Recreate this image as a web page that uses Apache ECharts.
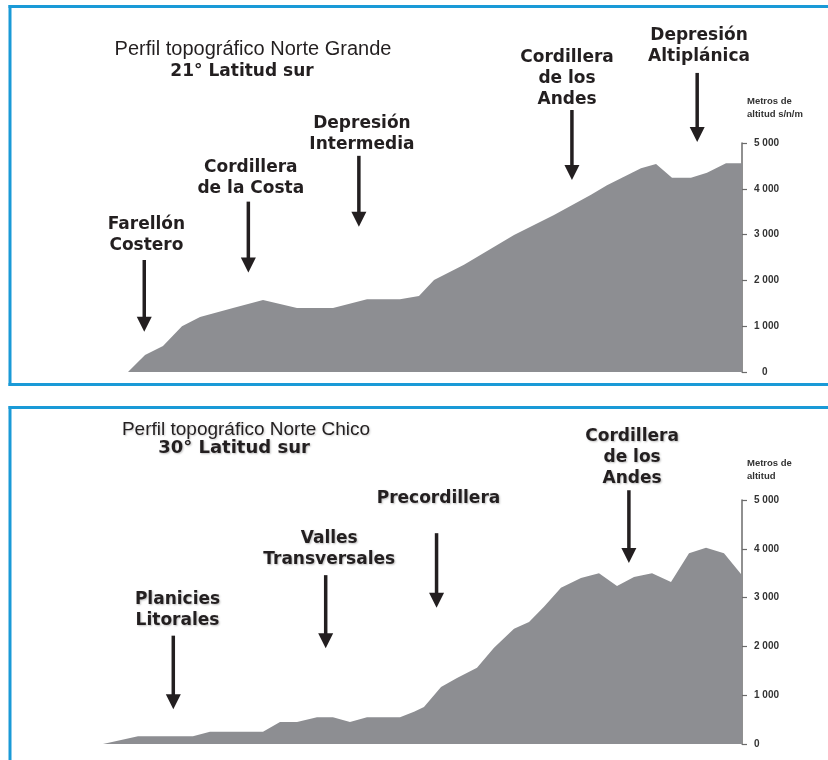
<!DOCTYPE html>
<html>
<head>
<meta charset="utf-8">
<script src="https://cdn.jsdelivr.net/npm/echarts@6/dist/echarts.min.js"></script>
<style>
html,body{margin:0;padding:0;background:#fff;}
#chart{width:828px;height:760px;}
</style>
</head>
<body>
<div id="chart"></div>
<script>
// ---------- Data: Norte Grande (21° S) ----------
const topDist = [0, 2.77, 5.70, 8.79, 11.73, 17.10, 21.99, 27.52, 33.39, 38.93, 44.30, 47.39, 49.84, 54.72, 62.87, 69.38, 75.41, 78.01, 83.55, 86.0, 88.6, 91.69, 94.3, 97.39, 100];
const topAlt  = [0, 370, 570, 1000, 1200, 1400, 1570, 1400, 1400, 1590, 1590, 1660, 2010, 2340, 2990, 3430, 3870, 4080, 4450, 4540, 4240, 4240, 4350, 4560, 4560];

// ---------- Data: Norte Chico (30° S) ----------
const botDist = [0, 5.48, 14.08, 16.74, 25.04, 27.70, 30.36, 33.49, 35.99, 38.65, 41.31, 46.48, 48.67, 50.23, 52.90, 55.40, 58.53, 61.19, 64.32, 66.67, 69.01, 71.67, 74.80, 77.62, 80.44, 83.10, 85.92, 88.89, 91.71, 94.37, 97.18, 100];
const botAlt  = [0, 160, 160, 250, 250, 450, 450, 550, 550, 450, 550, 550, 660, 760, 1170, 1350, 1560, 1970, 2360, 2500, 2810, 3200, 3400, 3500, 3240, 3420, 3500, 3320, 3910, 4020, 3910, 3460];

// ---------- Axis ticks ----------
const altTicks = [0, 1000, 2000, 3000, 4000, 5000];

// ---------- Annotations (arrow x, arrow top/tip altitude, label anchor) ----------
const topLabels   = ['Farellón\nCostero', 'Cordillera\nde la Costa', 'Depresión\nIntermedia', 'Cordillera\nde los\nAndes', 'Depresión\nAltiplánica'];
const topArrowX   = [2.65, 19.6, 37.6, 72.3, 92.7];
const topArrowTop = [2445, 3720, 4720, 5720, 6530];
const topArrowTip = [880, 2170, 3170, 4190, 5020];
const topLabelX   = [3.0, 20.0, 38.1, 71.5, 93.0];
const topLabelY   = [2800, 4040, 5020, 6000, 6940];

const botLabels   = ['Planicies\nLitorales', 'Valles\nTransversales', 'Precordillera', 'Cordillera\nde los\nAndes'];
const botArrowX   = [11.0, 34.85, 52.2, 82.3];
const botArrowTop = [2220, 3460, 4320, 5200];
const botArrowTip = [710, 1960, 2790, 3710];
const botLabelX   = [11.66, 35.4, 52.5, 82.8];
const botLabelY   = [2580, 3830, 5080, 5470];

// ---------- Styles ----------
const INK = '#231f20';
const AREA = '#8d8e92';
const BLUE = '#1a9ad7';

function fmtAlt(v) {
  return String(v).replace(/\B(?=(\d{3})+(?!\d))/g, ' ');
}

function annoRenderer(labels, shadow) {
  return function (params, api) {
    const i = params.dataIndex;
    const pTop = api.coord([api.value(0), api.value(1)]);
    const pTip = api.coord([api.value(0), api.value(2)]);
    const pLab = api.coord([api.value(3), api.value(4)]);
    const hl = 15, hw = 7.5;
    const txtStyle = {
      text: labels[i],
      fontFamily: '"DejaVu Sans", Verdana, sans-serif',
      fontWeight: 'bold',
      fontSize: 17,
      lineHeight: 21,
      fill: INK,
      align: 'center',
      verticalAlign: 'bottom'
    };
    if (shadow) {
      txtStyle.textShadowColor = 'rgba(0,0,0,0.25)';
      txtStyle.textShadowBlur = 2;
      txtStyle.textShadowOffsetX = 1;
      txtStyle.textShadowOffsetY = 1;
    }
    return {
      type: 'group',
      children: [
        { type: 'line', shape: { x1: pTop[0], y1: pTop[1], x2: pTip[0], y2: pTip[1] - hl + 1 },
          style: { stroke: INK, lineWidth: 3.5 } },
        { type: 'polygon', shape: { points: [[pTip[0] - hw, pTip[1] - hl], [pTip[0] + hw, pTip[1] - hl], [pTip[0], pTip[1]]] },
          style: { fill: INK } },
        { type: 'text', x: pLab[0], y: pLab[1] + 12.5, style: txtStyle }
      ]
    };
  };
}

function yAxisCfg(gridIndex, name, nameGap, zeroPad) {
  return {
    type: 'value', gridIndex: gridIndex, position: 'right',
    min: altTicks[0], max: altTicks[altTicks.length - 1], interval: altTicks[1] - altTicks[0],
    splitLine: { show: false },
    axisLine: { show: true, onZero: false, lineStyle: { color: '#6b6b6b', width: 1.5 } },
    axisTick: { show: true, inside: false, length: 5, lineStyle: { color: '#6b6b6b', width: 1.2 } },
    axisLabel: {
      margin: 12,
      fontFamily: '"Liberation Sans", Arial, sans-serif',
      fontWeight: 'bold', fontSize: 10, color: '#333',
      formatter: function (v) { return v === 0 && zeroPad ? '{z|0}' : fmtAlt(v); },
      rich: { z: { padding: [0, 0, 0, zeroPad], fontFamily: '"Liberation Sans", Arial, sans-serif', fontWeight: 'bold', fontSize: 10, color: '#333' } }
    },
    name: name, nameLocation: 'end', nameGap: nameGap,
    nameTextStyle: {
      align: 'left', verticalAlign: 'bottom',
      fontFamily: '"Liberation Sans", Arial, sans-serif',
      fontWeight: 'bold', fontSize: 9.5, color: '#333', lineHeight: 13,
      padding: [0, 0, 0, 5]
    }
  };
}

const chart = echarts.init(document.getElementById('chart'), null, { renderer: 'canvas' });

const option = {
  animation: false,
  backgroundColor: '#ffffff',
  grid: [
    { left: 128, top: 143, width: 614, height: 229 },
    { left: 103, top: 500, width: 639, height: 244 }
  ],
  xAxis: [
    { type: 'value', gridIndex: 0, min: 0, max: 100, show: false },
    { type: 'value', gridIndex: 1, min: 0, max: 100, show: false }
  ],
  yAxis: [
    yAxisCfg(0, 'Metros de\naltitud s/n/m', 22, 8),
    yAxisCfg(1, 'Metros de\naltitud', 17, 0)
  ],
  graphic: [
    // panel frames
    { type: 'line', shape: { x1: 8.5, y1: 6.5, x2: 828, y2: 6.5 }, style: { stroke: BLUE, lineWidth: 3 }, silent: true },
    { type: 'line', shape: { x1: 10, y1: 5, x2: 10, y2: 386 }, style: { stroke: BLUE, lineWidth: 3 }, silent: true },
    { type: 'line', shape: { x1: 8.5, y1: 384.5, x2: 828, y2: 384.5 }, style: { stroke: BLUE, lineWidth: 3 }, silent: true },
    { type: 'line', shape: { x1: 8.5, y1: 407.5, x2: 828, y2: 407.5 }, style: { stroke: BLUE, lineWidth: 3 }, silent: true },
    { type: 'line', shape: { x1: 10, y1: 406, x2: 10, y2: 760 }, style: { stroke: BLUE, lineWidth: 3 }, silent: true },
    // titles
    { type: 'text', x: 253, y: 49, silent: true,
      style: { text: 'Perfil topográfico Norte Grande', fontFamily: '"Liberation Sans", Arial, sans-serif', fontSize: 20, fill: INK, align: 'center', verticalAlign: 'middle' } },
    { type: 'text', x: 242, y: 72, silent: true,
      style: { text: '21° Latitud sur', fontFamily: '"DejaVu Sans", Verdana, sans-serif', fontWeight: 'bold', fontSize: 17, fill: INK, align: 'center', verticalAlign: 'middle' } },
    { type: 'text', x: 246, y: 430, silent: true,
      style: { text: 'Perfil topográfico Norte Chico', fontFamily: '"Liberation Sans", Arial, sans-serif', fontSize: 19, fill: INK, align: 'center', verticalAlign: 'middle',
               textShadowColor: 'rgba(0,0,0,0.2)', textShadowBlur: 2, textShadowOffsetX: 1, textShadowOffsetY: 1 } },
    { type: 'text', x: 234, y: 448, silent: true,
      style: { text: '30° Latitud sur', fontFamily: '"DejaVu Sans", Verdana, sans-serif', fontWeight: 'bold', fontSize: 18, fill: INK, align: 'center', verticalAlign: 'middle',
               textShadowColor: 'rgba(0,0,0,0.25)', textShadowBlur: 2, textShadowOffsetX: 1, textShadowOffsetY: 1 } }
  ],
  series: [
    {
      type: 'line', xAxisIndex: 0, yAxisIndex: 0, silent: true,
      data: topDist.map((d, i) => [d, topAlt[i]]),
      symbol: 'none', smooth: false,
      lineStyle: { width: 0, color: AREA },
      areaStyle: { color: AREA, opacity: 1 }
    },
    {
      type: 'line', xAxisIndex: 1, yAxisIndex: 1, silent: true,
      data: botDist.map((d, i) => [d, botAlt[i]]),
      symbol: 'none', smooth: false,
      lineStyle: { width: 0, color: AREA },
      areaStyle: { color: AREA, opacity: 1 }
    },
    {
      type: 'custom', xAxisIndex: 0, yAxisIndex: 0, clip: false, silent: true, z: 5,
      data: topArrowX.map((x, i) => [x, topArrowTop[i], topArrowTip[i], topLabelX[i], topLabelY[i]]),
      renderItem: annoRenderer(topLabels, false)
    },
    {
      type: 'custom', xAxisIndex: 1, yAxisIndex: 1, clip: false, silent: true, z: 5,
      data: botArrowX.map((x, i) => [x, botArrowTop[i], botArrowTip[i], botLabelX[i], botLabelY[i]]),
      renderItem: annoRenderer(botLabels, true)
    }
  ]
};

chart.setOption(option);
</script>
</body>
</html>
